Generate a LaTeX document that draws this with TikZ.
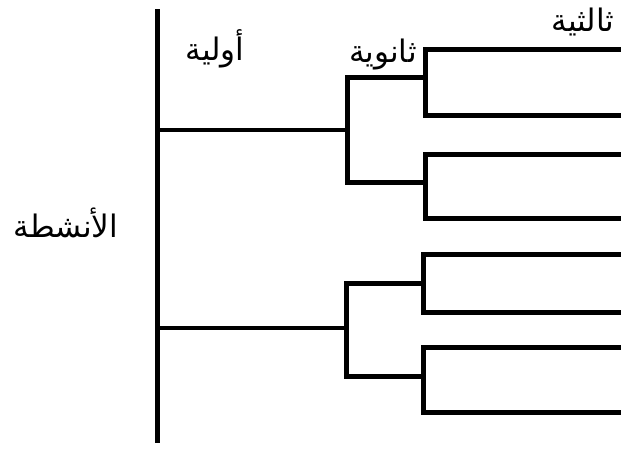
\documentclass[tikz,border=0pt]{standalone}
\usepackage{fontspec}
\newfontfamily\arabicfont[Script=Arabic]{DejaVu Sans}
\TeXXeTstate=1
\begin{document}
\begin{tikzpicture}[x=1pt,y=-1pt,
  ln/.style={line width=5pt, line join=miter},
  thinln/.style={line width=3.5pt},
  lbl/.style={inner sep=0pt, font=\arabicfont\fontsize{31}{37}\selectfont}]
\useasboundingbox (0,0) rectangle (621,448);
% main trunk
\coordinate (rt) at (157,9);
\coordinate (rb) at (157,443);
\draw[ln] (rt) -- (rb);
% primary branches
\coordinate (p1) at (157,130);
\coordinate (s1) at (347,130);
\coordinate (p2) at (157,328);
\coordinate (s2) at (346,328);
\draw[thinln] (p1) -- (s1);
\draw[thinln] (p2) -- (s2);
% secondary brackets
\coordinate (a1) at (425,77);  \coordinate (a2) at (347,77);
\coordinate (a3) at (347,182); \coordinate (a4) at (425,182);
\draw[ln] (a1) -- (a2) -- (a3) -- (a4);
\coordinate (b1) at (423,283); \coordinate (b2) at (346,283);
\coordinate (b3) at (346,376); \coordinate (b4) at (423,376);
\draw[ln] (b1) -- (b2) -- (b3) -- (b4);
% tertiary brackets
\foreach \n/\x/\ya/\yb in {t1/425/49/115, t2/425/154/218, t3/423/254/312, t4/423/347/412}{
  \coordinate (\n a) at (621,\ya);
  \coordinate (\n b) at (\x,\ya);
  \coordinate (\n c) at (\x,\yb);
  \coordinate (\n d) at (621,\yb);
  \draw[ln] (\n a) -- (\n b) -- (\n c) -- (\n d);
}
% labels
\node[lbl] (root) at (66,223) {\beginR الأنشطة\endR};
\node[lbl] (prim) at (215,49) {\beginR أولية\endR};
\node[lbl] (sec) at (383,55) {\beginR ثانوية\endR};
\node[lbl] (ter) at (583,22) {\beginR ثالثية\endR};
\end{tikzpicture}
\end{document}
